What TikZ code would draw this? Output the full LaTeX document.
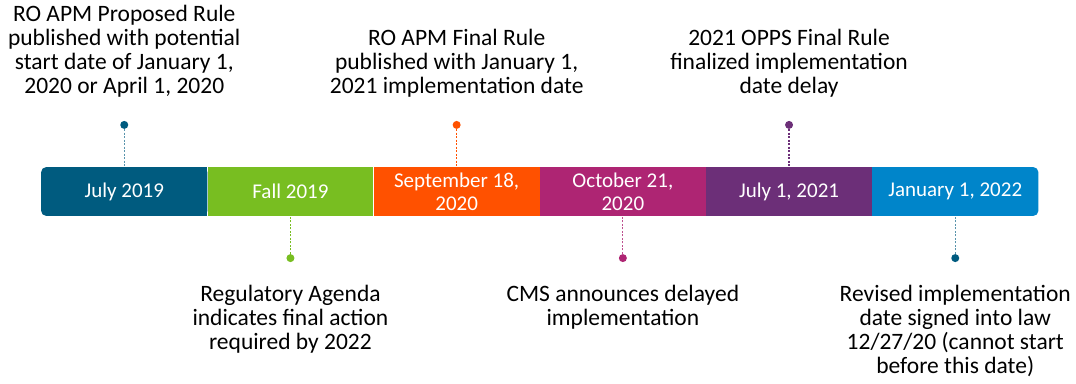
\documentclass[tikz,border=0pt]{standalone}
\usepackage{fontspec}
\setmainfont{Carlito}
\usetikzlibrary{positioning,backgrounds}
\definecolor{julyblue}{HTML}{005B7F}
\definecolor{fallgreen}{HTML}{78BE21}
\definecolor{septorange}{HTML}{FF5100}
\definecolor{octmagenta}{HTML}{AE2573}
\definecolor{julypurple}{HTML}{6C2F78}
\definecolor{janblue}{HTML}{0085CA}
\begin{document}
\begin{tikzpicture}[x=1pt,y=-1pt,
    period/.style={minimum width=165.8pt,minimum height=48.4pt,inner sep=0pt,
      text=white,align=center,font=\fontsize{21}{23}\selectfont},
    pin/.style={circle,fill=#1,minimum size=8pt,inner sep=0pt},
    lead/.style={draw=#1,line width=1.2pt,dash pattern=on 2pt off 1.5pt},
    note/.style={align=center,inner sep=0pt,font=\fontsize{23.5}{24}\selectfont}]
  \useasboundingbox (0,0) rectangle (1076,383);
  \node[period] (jul19) at (124.25,191.5) {July 2019};
  \node[period,fill=fallgreen,right=0pt of jul19] (fall19) {Fall 2019};
  \node[period,fill=septorange,right=0pt of fall19] (sep20) {September 18,\\2020};
  \node[period,fill=octmagenta,right=0pt of sep20] (oct20) {October 21,\\2020};
  \node[period,fill=julypurple,right=0pt of oct20] (jul21) {July 1, 2021};
  \node[period,right=0pt of jul21] (jan22) {January 1, 2022};
  \begin{scope}[on background layer]
    \fill[julyblue,rounded corners=5pt] (jul19.south west) rectangle (jul19.north east);
    \fill[julyblue] (jul19.south) rectangle (jul19.north east);
    \fill[janblue,rounded corners=5pt] (jan22.south west) rectangle (jan22.north east);
    \fill[janblue] (jan22.south west) rectangle (jan22.north);
  \end{scope}
  \node[pin=julyblue,above=38pt of jul19] (p1) {};
  \node[pin=fallgreen,below=38pt of fall19] (p2) {};
  \node[pin=septorange,above=38pt of sep20] (p3) {};
  \node[pin=octmagenta,below=38pt of oct20] (p4) {};
  \node[pin=julypurple,above=38pt of jul21] (p5) {};
  \node[pin=julyblue,below=38pt of jan22] (p6) {};
  \draw[lead=julyblue!65] (p1) -- (jul19);
  \draw[lead=fallgreen] (p2) -- (fall19);
  \draw[lead=septorange] (p3) -- (sep20);
  \draw[lead=octmagenta!80] (p4) -- (oct20);
  \draw[lead=julypurple] (p5) -- (jul21);
  \draw[lead=julyblue!65] (p6) -- (jan22);
  \node[note,above=23pt of p1] (n1) {RO APM Proposed Rule\\published with potential\\start date of January 1,\\2020 or April 1, 2020};
  \node[note,below=23pt of p2] (n2) {Regulatory Agenda\\indicates final action\\required by 2022};
  \node[note,above=23pt of p3] (n3) {RO APM Final Rule\\published with January 1,\\2021 implementation date};
  \node[note,below=23pt of p4] (n4) {CMS announces delayed\\implementation};
  \node[note,above=23pt of p5] (n5) {2021 OPPS Final Rule\\finalized implementation\\date delay};
  \node[note,below=23pt of p6] (n6) {Revised implementation\\date signed into law\\12/27/20 (cannot start\\before this date)};
\end{tikzpicture}
\end{document}
